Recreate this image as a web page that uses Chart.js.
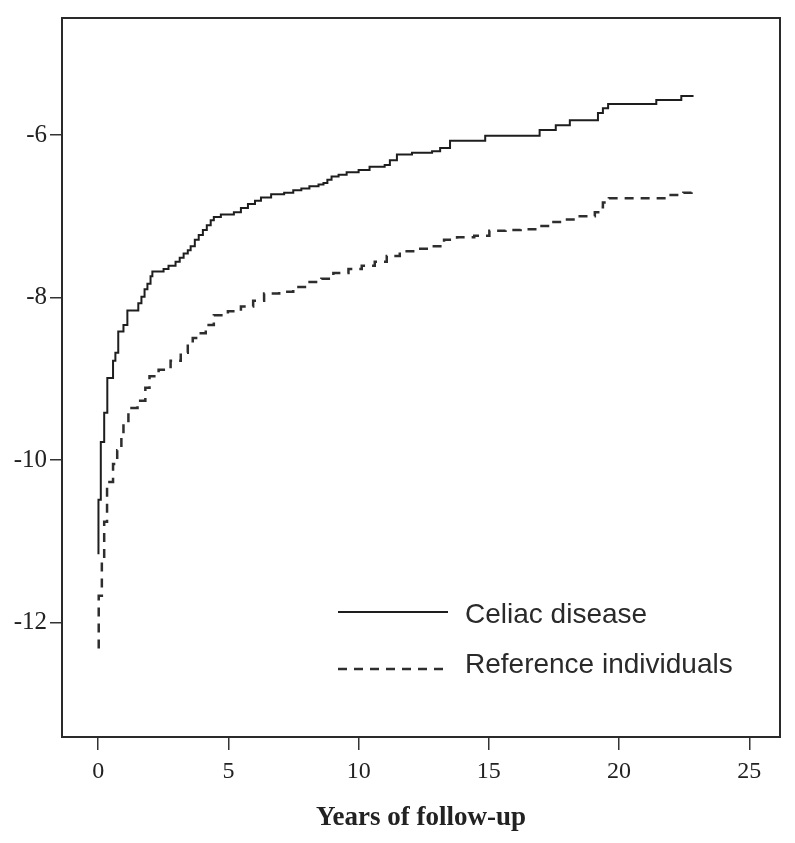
<!DOCTYPE html>
<html>
<head>
<meta charset="utf-8">
<script src="https://cdn.jsdelivr.net/npm/chart.js@4/dist/chart.umd.min.js"></script>
<style>
  html, body { margin: 0; padding: 0; background: #ffffff; }
  #wrap { width: 795px; height: 843px; }
</style>
</head>
<body>
<div id="wrap"><canvas id="c" width="795" height="843"></canvas></div>
<script>
// ---- data ----
const SERIES_NAMES = ['Celiac disease', 'Reference individuals'];

const CELIAC_YEARS = [0.01,0.01,0.10,0.23,0.35,0.57,0.66,0.77,0.97,1.12,1.54,1.66,1.78,1.89,2.01,2.08,2.51,2.70,2.97,3.13,3.28,3.44,3.55,3.71,3.86,4.02,4.17,4.32,4.44,4.71,5.21,5.48,5.75,6.02,6.25,6.64,7.14,7.49,7.80,8.11,8.46,8.65,8.80,8.96,9.23,9.54,10.00,10.42,11.00,11.20,11.47,12.05,12.82,13.13,13.51,14.86,16.95,17.57,18.11,19.19,19.38,19.58,21.43,22.39,22.86];
const CELIAC_VALUES = [-11.16,-10.49,-9.78,-9.42,-8.99,-8.78,-8.68,-8.42,-8.34,-8.16,-8.07,-7.99,-7.90,-7.83,-7.74,-7.68,-7.65,-7.61,-7.56,-7.51,-7.46,-7.42,-7.37,-7.29,-7.23,-7.17,-7.11,-7.05,-7.01,-6.98,-6.95,-6.90,-6.85,-6.81,-6.77,-6.73,-6.71,-6.68,-6.66,-6.63,-6.61,-6.59,-6.55,-6.51,-6.49,-6.46,-6.43,-6.39,-6.37,-6.31,-6.24,-6.22,-6.20,-6.16,-6.07,-6.01,-5.94,-5.88,-5.82,-5.73,-5.67,-5.62,-5.57,-5.52,-5.52];

const REF_YEARS = [0.02,0.02,0.14,0.23,0.34,0.57,0.73,0.89,0.97,1.16,1.51,1.81,1.97,2.32,2.78,3.17,3.44,3.63,3.82,4.13,4.44,4.98,5.48,5.95,6.37,6.95,7.49,7.99,8.57,9.03,9.61,10.12,10.62,11.08,11.58,12.16,12.70,13.28,13.78,14.44,15.02,15.64,16.22,16.87,17.37,17.95,18.49,19.07,19.27,19.38,19.61,21.89,22.47,22.78];
const REF_VALUES = [-12.32,-11.67,-11.25,-10.76,-10.27,-10.05,-9.88,-9.69,-9.54,-9.36,-9.27,-9.11,-8.97,-8.89,-8.78,-8.68,-8.56,-8.50,-8.44,-8.34,-8.22,-8.17,-8.11,-8.04,-7.95,-7.93,-7.87,-7.81,-7.77,-7.70,-7.65,-7.61,-7.56,-7.49,-7.43,-7.40,-7.37,-7.29,-7.26,-7.24,-7.18,-7.17,-7.16,-7.12,-7.07,-7.04,-7.00,-6.95,-6.89,-6.83,-6.78,-6.74,-6.71,-6.66];

const X_TICKS = [0, 5, 10, 15, 20, 25];
const Y_TICKS = [-12, -10, -8, -6];
const X_TITLE = 'Years of follow-up';

// ---- chart ----
const toPoints = (xs, ys) => xs.map((x, i) => ({ x: x, y: ys[i] }));

const framePlugin = {
  id: 'frame',
  afterDatasetsDraw(chart) {
    const a = chart.chartArea, ctx = chart.ctx;
    ctx.save();
    ctx.strokeStyle = '#2a2a2a';
    ctx.lineWidth = 2;
    ctx.strokeRect(a.left, a.top, a.right - a.left, a.bottom - a.top);
    ctx.restore();
  }
};

const legendPlugin = {
  id: 'innerLegend',
  afterDraw(chart) {
    const ctx = chart.ctx;
    const rows = [
      { lineY: 612, textY: 615 },
      { lineY: 669, textY: 665 }
    ];
    ctx.save();
    chart.data.datasets.forEach((ds, i) => {
      const r = rows[i];
      ctx.strokeStyle = ds.borderColor;
      ctx.lineWidth = ds.borderWidth;
      ctx.setLineDash(ds.borderDash || []);
      ctx.beginPath();
      ctx.moveTo(338, r.lineY);
      ctx.lineTo(448, r.lineY);
      ctx.stroke();
      ctx.setLineDash([]);
      ctx.fillStyle = '#2a2a2a';
      ctx.font = '28px "Liberation Sans", Arial, sans-serif';
      ctx.textAlign = 'left';
      ctx.textBaseline = 'middle';
      ctx.fillText(ds.label, 465, r.textY);
    });
    ctx.restore();
  }
};

new Chart(document.getElementById('c'), {
  type: 'line',
  data: {
    datasets: [
      {
        label: SERIES_NAMES[0],
        data: toPoints(CELIAC_YEARS, CELIAC_VALUES),
        borderColor: '#1e1e1e',
        borderWidth: 2,
        pointRadius: 0,
        stepped: 'before',
        fill: false
      },
      {
        label: SERIES_NAMES[1],
        data: toPoints(REF_YEARS, REF_VALUES),
        borderColor: '#2e2e2e',
        borderWidth: 2.5,
        borderDash: [9, 7],
        pointRadius: 0,
        stepped: 'before',
        fill: false
      }
    ]
  },
  options: {
    responsive: false,
    animation: false,
    layout: { padding: { top: 12, right: 15, left: 0, bottom: 0 } },
    plugins: { legend: { display: false }, tooltip: { enabled: false } },
    scales: {
      x: {
        type: 'linear',
        min: -1.39,
        max: 26.18,
        afterBuildTicks: s => { s.ticks = X_TICKS.map(v => ({ value: v })); },
        afterFit: s => { s.height = 106; },
        grid: { drawOnChartArea: false, drawTicks: true, tickLength: 13, color: '#333', lineWidth: 1.5 },
        border: { display: true, color: '#2a2a2a', width: 2 },
        ticks: {
          color: '#222',
          padding: 7,
          maxRotation: 0,
          autoSkip: false,
          font: { family: '"Liberation Serif", "Times New Roman", serif', size: 24 },
          callback: v => String(v)
        },
        title: {
          display: true,
          text: X_TITLE,
          color: '#222',
          font: { family: '"Liberation Serif", "Times New Roman", serif', size: 27, weight: 'bold' },
          padding: { top: 4, bottom: 9 }
        }
      },
      y: {
        type: 'linear',
        min: -13.41,
        max: -4.56,
        afterBuildTicks: s => { s.ticks = Y_TICKS.map(v => ({ value: v })); },
        afterFit: s => { s.width = 62; },
        grid: { drawOnChartArea: false, drawTicks: true, tickLength: 12, color: '#333', lineWidth: 1.5 },
        border: { display: true, color: '#2a2a2a', width: 2 },
        ticks: {
          color: '#222',
          padding: 3,
          autoSkip: false,
          font: { family: '"Liberation Serif", "Times New Roman", serif', size: 25 },
          callback: v => String(v)
        }
      }
    }
  },
  plugins: [framePlugin, legendPlugin]
});
</script>
</body>
</html>
